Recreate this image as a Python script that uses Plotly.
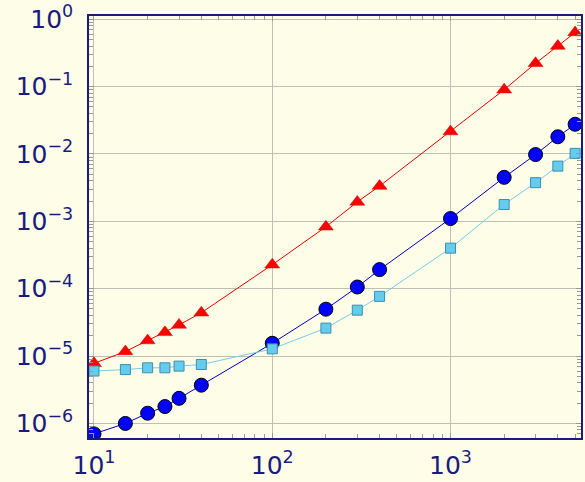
import plotly.graph_objects as go

x_vals = [10, 15, 20, 25, 30, 40, 100, 200, 300, 400, 1000, 2000, 3000, 4000, 5000]
red_tri = [7.8e-6, 1.17e-5, 1.7e-5, 2.25e-5, 2.9e-5, 4.4e-5, 2.27e-4, 8.3e-4, 1.94e-3, 3.34e-3,
           0.0215, 0.090, 0.222, 0.40, 0.635]
blue_circ = [7.0e-7, 1.0e-6, 1.42e-6, 1.78e-6, 2.36e-6, 3.7e-6, 1.55e-5, 4.97e-5, 1.06e-4, 1.92e-4,
             1.1e-3, 4.5e-3, 9.8e-3, 0.018, 0.0276]
cyan_sq = [6.0e-6, 6.3e-6, 6.7e-6, 6.7e-6, 7.1e-6, 7.5e-6, 1.28e-5, 2.6e-5, 4.8e-5, 7.7e-5,
           4.0e-4, 1.78e-3, 3.75e-3, 6.6e-3, 0.0102]

x_tick_vals = [10, 100, 1000]
x_tick_text = ["10<sup>1</sup>", "10<sup>2</sup>", "10<sup>3</sup>"]
y_tick_vals = [1e-6, 1e-5, 1e-4, 1e-3, 1e-2, 1e-1, 1]
y_tick_text = ["10<sup>−6</sup>", "10<sup>−5</sup>", "10<sup>−4</sup>", "10<sup>−3</sup>",
               "10<sup>−2</sup>", "10<sup>−1</sup>", "10<sup>0</sup>"]

navy = "#1a1a80"
fig = go.Figure()
fig.add_trace(go.Scatter(x=x_vals, y=red_tri, mode="lines+markers",
                         line=dict(color="#ee0000", width=1),
                         marker=dict(symbol="triangle-up", size=13, color="#ff0000",
                                     line=dict(color="#dd0000", width=0.5))))
fig.add_trace(go.Scatter(x=x_vals, y=blue_circ, mode="lines+markers",
                         line=dict(color="#0000cc", width=1),
                         marker=dict(symbol="circle", size=14, color="#0000ff",
                                     line=dict(color="#000000", width=1))))
fig.add_trace(go.Scatter(x=x_vals, y=cyan_sq, mode="lines+markers",
                         line=dict(color="#77ccee", width=1),
                         marker=dict(symbol="square", size=10, color="#66ccee",
                                     line=dict(color="#3a8fb0", width=1))))

axis_common = dict(
    type="log", showline=True, linecolor=navy, linewidth=1.5, mirror="allticks",
    showgrid=True, gridcolor="#c0c0b8", gridwidth=1,
    ticks="inside", ticklen=5, tickcolor="#999999",
    zeroline=False, ticklabeloverflow="allow",
    tickfont=dict(family="DejaVu Sans", size=25, color=navy),
    minor=dict(tickmode="linear", dtick="D1", ticks="inside", ticklen=4,
               tickcolor="#999999", showgrid=False),
)
fig.update_xaxes(range=[0.972, 3.732], tickmode="array", tickvals=x_tick_vals,
                 ticktext=x_tick_text, ticklabelstandoff=4, **axis_common)
fig.update_yaxes(range=[-6.216, 0.048], tickmode="array", tickvals=y_tick_vals,
                 ticktext=y_tick_text, ticklabelstandoff=9, **axis_common)

fig.update_layout(
    width=585, height=482, showlegend=False,
    paper_bgcolor="#fefee8", plot_bgcolor="#fefee8",
    margin=dict(l=89, r=2, t=14, b=42),
)
fig.write_html("out.html", config={"displayModeBar": False},
               post_script="document.body.style.margin='0';document.body.style.overflow='hidden';")
